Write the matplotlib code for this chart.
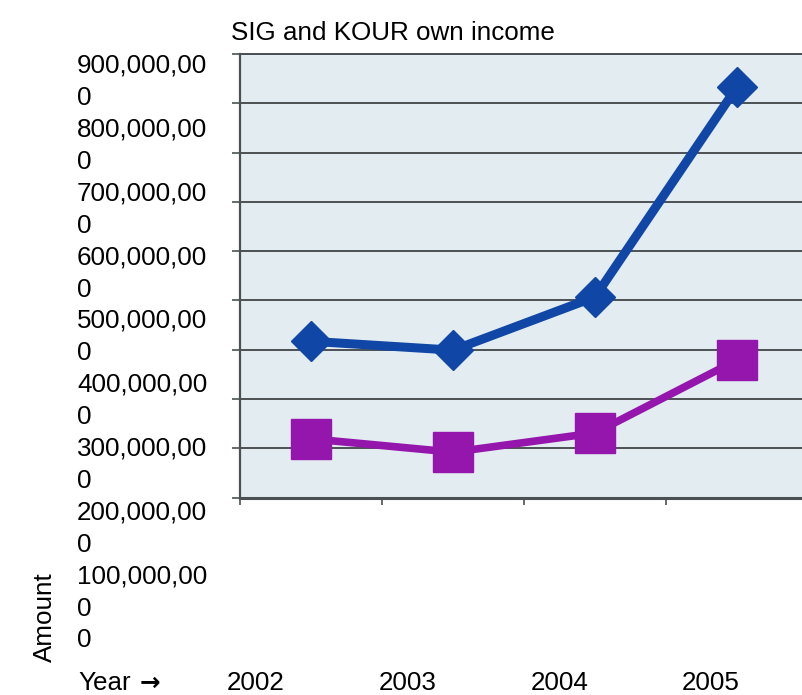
import matplotlib
matplotlib.use("Agg")
import matplotlib.pyplot as plt

# ---- data ----
years = ["2002", "2003", "2004", "2005"]
sig_income = [317000000, 299000000, 407000000, 833000000]
kour_income = [119000000, 92000000, 131000000, 279000000]
ytick_values = [900000000, 800000000, 700000000, 600000000, 500000000,
                400000000, 300000000, 200000000, 100000000, 0]
title_text = "SIG and KOUR own income"
ylabel_text = "Amount"
xlabel_word = "Year"
xlabel_arrow = "\u2192"

# ---- layout ----
W, H = 803, 695
FONT = ['Liberation Sans', 'DejaVu Sans']
plt.rcParams['font.family'] = FONT
FS = 18.7

fig = plt.figure(figsize=(W / 100, H / 100), dpi=100)
fig.patch.set_facecolor('white')


def fx(px):
    return px / W


def fy(py):
    return 1 - py / H


ax_left, ax_right, ax_top, ax_bottom = 240, 808, 54, 497.5
ax = fig.add_axes([fx(ax_left), fy(ax_bottom), (ax_right - ax_left) / W, (ax_bottom - ax_top) / H])
ax.set_facecolor('#E3EDF1')

xs = list(range(len(years)))
blue = '#1046A6'
purple = '#9516AC'
ax.plot(xs, sig_income, color=blue, lw=6.5, marker='D', ms=20, mec=blue, mew=1,
        solid_joinstyle='round', zorder=4)
ax.plot(xs, kour_income, color=purple, lw=5.5, marker='s', ms=29, mec=purple, mew=1,
        solid_joinstyle='round', zorder=3)

ax.set_xlim(-0.5, len(years) - 0.5)
ax.set_ylim(0, max(ytick_values))
ax.set_yticks(ytick_values)
ax.set_xticks([i - 0.5 for i in range(len(years) + 1)])
ax.yaxis.grid(True, color='#4B5152', lw=1.4)
ax.set_axisbelow(True)
ax.tick_params(axis='both', labelleft=False, labelbottom=False, direction='out',
               color='#4B5152', width=1.2)
ax.tick_params(axis='y', length=6)
ax.tick_params(axis='x', length=5)
for side in ('left', 'bottom', 'top'):
    ax.spines[side].set_color('#4B5152')
ax.spines['left'].set_linewidth(1.6)
ax.spines['bottom'].set_linewidth(2.2)
ax.spines['top'].set_linewidth(1.4)
ax.spines['right'].set_visible(False)

# ---- y labels (wrapped text column) ----
line_pitch = 31.9
first_center = 64
cap = 9.3
for k, v in enumerate(ytick_values):
    s = f"{v:,}"
    n_lines = 1
    if len(s) > 10:
        s = s[:10] + "\n" + s[10:]
        n_lines = 2
    yc_first = first_center + line_pitch * 2 * k
    yc_last = yc_first + line_pitch * (n_lines - 1)
    fig.text(fx(77), fy(yc_last + cap), s, ha='left', va='baseline', fontsize=FS,
             linespacing=1.45, color='black')

# ---- x labels ----
x_label0, x_step = 256, 151.7
base_x = 690
for i, yr in enumerate(years):
    fig.text(fx(x_label0 + x_step * i), fy(base_x), yr, ha='center', va='baseline',
             fontsize=FS, color='black')
fig.text(fx(78), fy(base_x), xlabel_word, ha='left', va='baseline', fontsize=FS,
         color='black')
fig.text(fx(140), fy(base_x), xlabel_arrow, ha='left', va='baseline', fontsize=FS - 1,
         color='black', family=['DejaVu Sans'], fontweight='bold')

# ---- title & axis title ----
fig.text(fx(393), fy(39.5), title_text, ha='center', va='baseline', fontsize=FS,
         color='black')
fig.text(fx(45), fy(617), ylabel_text, ha='center', va='center', rotation=90,
         fontsize=FS, color='black')

fig.savefig("out.png", dpi=100)
